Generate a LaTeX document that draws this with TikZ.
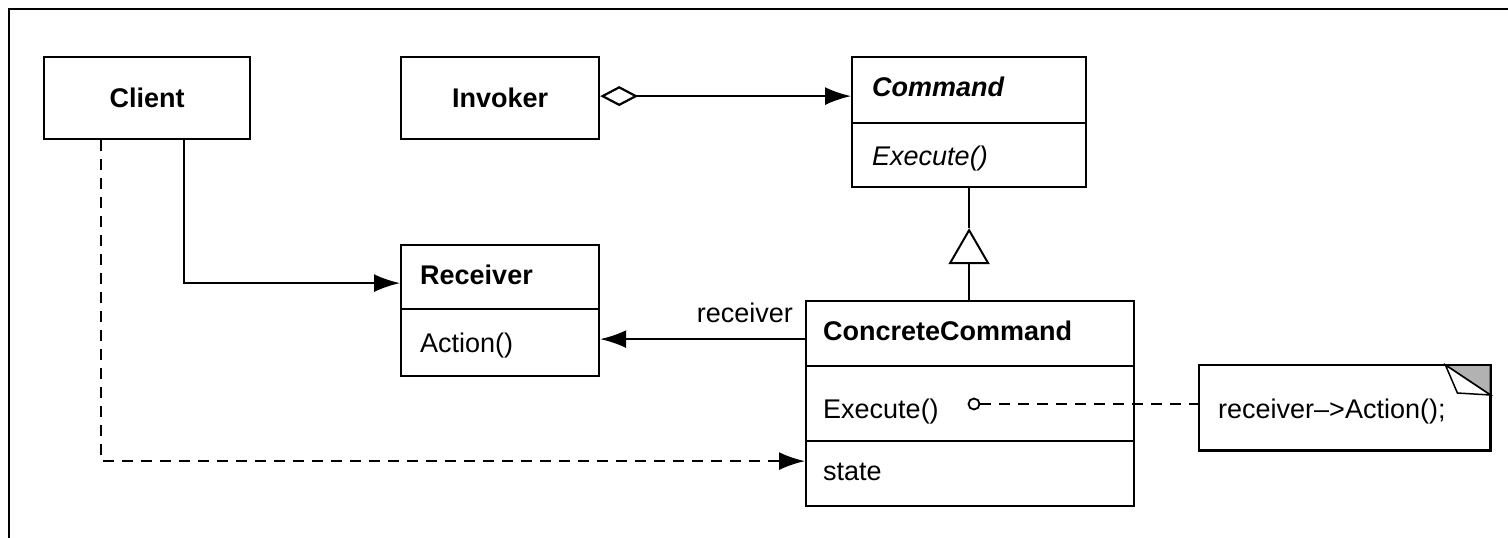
\documentclass[tikz,border=0pt]{standalone}
\usepackage{fontspec}
\setmainfont{Liberation Sans}
\usetikzlibrary{arrows.meta,shapes.geometric}
\begin{document}
\begin{tikzpicture}[x=1pt,y=-1pt,
  box/.style={draw, line width=2.2pt, inner sep=0pt, anchor=north west},
  lbl/.style={anchor=base west, inner sep=0pt, font=\fontsize{27}{32}\selectfont},
  bld/.style={lbl, font=\fontsize{27}{32}\selectfont\bfseries},
  conn/.style={line width=2.2pt},
  arr/.style={-{Latex[length=26pt,width=18pt]}},
  dsh/.style={dash pattern=on 11pt off 8pt},
  tri/.style={regular polygon, regular polygon sides=3, draw, line width=2pt, fill=white, minimum size=44pt, inner sep=0pt}
]
\useasboundingbox (0,0) rectangle (1508,538);
\draw[line width=2.2pt] (9,538) -- (9,9) -- (1508,9);

% boxes
\node[box, minimum width=206pt, minimum height=82pt] (client) at (43,56) {};
\node[box, minimum width=198pt, minimum height=82pt] (invoker) at (400,56) {};
\node[box, minimum width=234pt, minimum height=66pt] (cmdT) at (851,56) {};
\node[box, minimum width=234pt, minimum height=64pt] (cmdB) at (851,122) {};
\node[box, minimum width=198pt, minimum height=64pt] (recT) at (400,244) {};
\node[box, minimum width=198pt, minimum height=67pt] (recB) at (400,308) {};
\node[box, minimum width=328pt, minimum height=65pt] (ccT) at (805,300) {};
\node[box, minimum width=328pt, minimum height=75pt] (ccM) at (805,365) {};
\node[box, minimum width=328pt, minimum height=65pt] (ccB) at (805,440) {};

% texts
\node[bld, anchor=center] (tClient) at (client.center) {Client};
\node[bld, anchor=center] (tInvoker) at (invoker.center) {Invoker};
\node[lbl, font=\fontsize{27}{32}\selectfont\bfseries\itshape] (tCmd) at (872,96) {Command};
\node[lbl, font=\fontsize{27}{32}\selectfont\itshape] (tCmdEx) at (872,165) {Execute()};
\node[bld] (tRec) at (420,284) {Receiver};
\node[lbl] (tAct) at (420,352) {Action()};
\node[bld] (tCC) at (823,340) {ConcreteCommand};
\node[lbl] (tCCEx) at (823,418) {Execute()};
\node[lbl] (tState) at (823,480) {state};
\node[lbl, anchor=base east] (tRecv) at (793,322) {receiver};

% note
\node[inner sep=0pt, anchor=north west, minimum width=291pt, minimum height=85pt] (note) at (1199,365) {};
\draw[line width=2.2pt] (note.north west) rectangle (note.south east);
\draw[line width=1.5pt, fill=black!30] ([xshift=-45pt]note.north east) -- (note.north east) -- ([yshift=-30pt]note.north east) -- cycle;
\draw[line width=1.5pt, fill=white] ([xshift=-45pt]note.north east) -- ([xshift=-33pt,yshift=-28pt]note.north east) -- ([yshift=-30pt]note.north east) -- cycle;
\node[lbl] (tNote) at (1218,418) {receiver–>Action();};

% connectors
\draw[conn, {Diamond[open,length=38pt,width=20pt,fill=white]}-{Latex[length=26pt,width=18pt]}] ([yshift=2pt]invoker.east) -- ([yshift=2pt]invoker.east -| cmdT.west);
\draw[conn, arr] ([xshift=141pt]client.south west) |- ([yshift=-6pt]recT.west);
\draw[conn, arr] ([yshift=-5.5pt]ccT.west) -- ([yshift=-5.5pt]ccT.west -| recB.east);
\draw[conn, dsh, arr] ([xshift=58pt]client.south west) |- ([yshift=12.5pt]ccB.west);

\node[tri] (tri) at ([yshift=-64pt]cmdB.south) {};
\draw[conn] (tri.corner 1) -- (tri.corner 1 |- cmdB.south);
\draw[conn] (tri.south) -- (tri.south |- ccT.north);

\node[circle, draw, line width=1.8pt, minimum size=11pt, inner sep=0pt] (dot) at (974,404) {};
\draw[conn, dsh] (dot.east) -- (dot.east -| note.west);
\end{tikzpicture}
\end{document}
